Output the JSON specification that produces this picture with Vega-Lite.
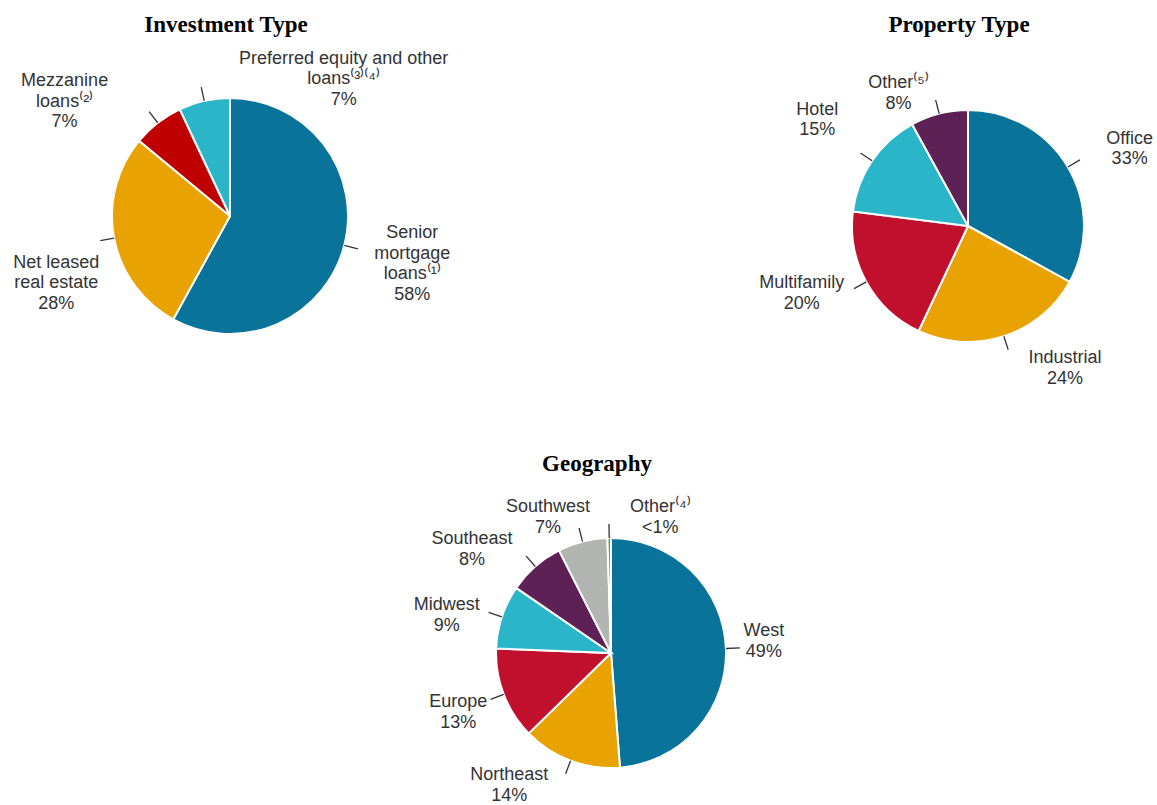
{
  "$schema": "https://vega.github.io/schema/vega-lite/v6.json",
  "background": "white",
  "padding": {"left": 0, "top": 14, "right": 0, "bottom": 0},
  "datasets": {
    "investment": [
      {"category": "Senior mortgage loans", "label": "Senior\nmortgage\nloans⁽¹⁾\n58%", "value": 58, "order": 1},
      {"category": "Net leased real estate", "label": "Net leased\nreal estate\n28%", "value": 28, "order": 2},
      {"category": "Mezzanine loans", "label": "Mezzanine\nloans⁽²⁾\n7%", "value": 7, "order": 3},
      {"category": "Preferred equity and other loans", "label": "Preferred equity and other\nloans⁽³⁾⁽⁴⁾\n7%", "value": 7, "order": 4}
    ],
    "property": [
      {"category": "Office", "label": "Office\n33%", "value": 33, "order": 1},
      {"category": "Industrial", "label": "Industrial\n24%", "value": 24, "order": 2},
      {"category": "Multifamily", "label": "Multifamily\n20%", "value": 20, "order": 3},
      {"category": "Hotel", "label": "Hotel\n15%", "value": 15, "order": 4},
      {"category": "Other", "label": "Other⁽⁵⁾\n8%", "value": 8, "order": 5}
    ],
    "geography": [
      {"category": "West", "label": "West\n49%", "value": 49, "order": 1},
      {"category": "Northeast", "label": "Northeast\n14%", "value": 14, "order": 2},
      {"category": "Europe", "label": "Europe\n13%", "value": 13, "order": 3},
      {"category": "Midwest", "label": "Midwest\n9%", "value": 9, "order": 4},
      {"category": "Southeast", "label": "Southeast\n8%", "value": 8, "order": 5},
      {"category": "Southwest", "label": "Southwest\n7%", "value": 7, "order": 6},
      {"category": "Other", "label": "Other⁽⁴⁾\n<1%", "value": 0.5, "order": 7}
    ]
  },
  "config": {
    "view": {"stroke": null},
    "title": {"font": "Liberation Serif", "fontSize": 23, "fontWeight": "bold", "color": "#000000", "anchor": "middle", "baseline": "alphabetic", "offset": 10}
  },
  "spacing": 48,
  "resolve": {"scale": {"color": "independent", "theta": "independent"}},
  "vconcat": [
    {
      "bounds": "flush",
      "spacing": 319,
      "resolve": {"scale": {"color": "independent", "theta": "independent"}},
      "hconcat": [
        {
          "width": 460,
          "height": 338,
          "title": {"text": "Investment Type", "dx": -4},
          "data": {"name": "investment"},
          "transform": [
            {"stack": "value", "groupby": [], "sort": [{"field": "order", "order": "ascending"}], "offset": "normalize", "as": ["t0", "t1"]},
            {"calculate": "(datum.t0 + datum.t1) / 2", "as": "mid"}
          ],
          "layer": [
            {
              "mark": {"type": "arc", "outerRadius": 118, "stroke": "white", "strokeWidth": 2},
              "encoding": {
                "theta": {"field": "t0", "type": "quantitative", "scale": {"domain": [0, 1]}, "stack": null},
                "theta2": {"field": "t1"},
                "color": {"field": "category", "type": "nominal", "legend": null,
                  "scale": {"domain": ["Senior mortgage loans", "Net leased real estate", "Mezzanine loans", "Preferred equity and other loans"],
                            "range": ["#0A7399", "#E8A202", "#C00000", "#2BB5C9"]}}
              }
            },
            {
              "mark": {"type": "arc", "innerRadius": 118, "outerRadius": 132, "stroke": "#333333", "strokeWidth": 1.3, "fillOpacity": 0},
              "encoding": {
                "theta": {"field": "mid", "type": "quantitative", "scale": {"domain": [0, 1]}, "stack": null},
                "theta2": {"field": "mid"}
              }
            },
            {
              "mark": {"type": "text", "radius": 185, "lineBreak": "\n", "font": "Liberation Sans", "fontSize": 18, "lineHeight": 20.5, "fill": "#333333", "align": "center", "baseline": "middle",
                "dx": {"expr": "datum.category == 'Senior mortgage loans' ? 3 : datum.category == 'Net leased real estate' ? 8 : datum.category == 'Mezzanine loans' ? -52 : 154"},
                "dy": {"expr": "datum.category == 'Senior mortgage loans' ? -29 : datum.category == 'Net leased real estate' ? 12 : datum.category == 'Mezzanine loans' ? 11.5 : 23.5"}},
              "encoding": {
                "theta": {"field": "mid", "type": "quantitative", "scale": {"domain": [0, 1]}, "stack": null},
                "text": {"field": "label", "type": "nominal"}
              }
            }
          ]
        },
        {
          "width": 378,
          "height": 358,
          "title": {"text": "Property Type", "dx": -9},
          "data": {"name": "property"},
          "transform": [
            {"stack": "value", "groupby": [], "sort": [{"field": "order", "order": "ascending"}], "offset": "normalize", "as": ["t0", "t1"]},
            {"calculate": "(datum.t0 + datum.t1) / 2", "as": "mid"}
          ],
          "layer": [
            {
              "mark": {"type": "arc", "outerRadius": 116, "stroke": "white", "strokeWidth": 2},
              "encoding": {
                "theta": {"field": "t0", "type": "quantitative", "scale": {"domain": [0, 1]}, "stack": null},
                "theta2": {"field": "t1"},
                "color": {"field": "category", "type": "nominal", "legend": null,
                  "scale": {"domain": ["Office", "Industrial", "Multifamily", "Hotel", "Other"],
                            "range": ["#0A7399", "#E8A202", "#C0102E", "#2BB5C9", "#5D2155"]}}
              }
            },
            {
              "mark": {"type": "arc", "innerRadius": 116, "outerRadius": 130, "stroke": "#333333", "strokeWidth": 1.3, "fillOpacity": 0},
              "encoding": {
                "theta": {"field": "mid", "type": "quantitative", "scale": {"domain": [0, 1]}, "stack": null},
                "theta2": {"field": "mid"}
              }
            },
            {
              "mark": {"type": "text", "radius": 175, "lineBreak": "\n", "font": "Liberation Sans", "fontSize": 18, "lineHeight": 20.5, "fill": "#333333", "align": "center", "baseline": "middle",
                "dx": {"expr": "datum.category == 'Office' ? 11 : datum.category == 'Industrial' ? 43 : datum.category == 'Multifamily' ? -13 : datum.category == 'Hotel' ? -6 : -26"},
                "dy": {"expr": "datum.category == 'Office' ? 2 : datum.category == 'Industrial' ? -34 : datum.category == 'Multifamily' ? -27 : datum.category == 'Hotel' ? -18 : 27"}},
              "encoding": {
                "theta": {"field": "mid", "type": "quantitative", "scale": {"domain": [0, 1]}, "stack": null},
                "text": {"field": "label", "type": "nominal"}
              }
            }
          ]
        }
      ]
    },
    {
      "bounds": "flush",
      "spacing": 460,
      "resolve": {"scale": {"color": "independent", "theta": "independent"}},
      "hconcat": [
        {
          "width": 1,
          "height": 1,
          "data": {"values": [{}]},
          "mark": {"type": "text", "text": ""}
        },
        {
          "width": 300,
          "height": 296,
          "title": {"text": "Geography", "dx": -14, "offset": 22},
          "data": {"name": "geography"},
          "transform": [
            {"stack": "value", "groupby": [], "sort": [{"field": "order", "order": "ascending"}], "offset": "normalize", "as": ["t0", "t1"]},
            {"calculate": "(datum.t0 + datum.t1) / 2", "as": "mid"}
          ],
          "layer": [
            {
              "mark": {"type": "arc", "outerRadius": 115, "stroke": "white", "strokeWidth": 2},
              "encoding": {
                "theta": {"field": "t0", "type": "quantitative", "scale": {"domain": [0, 1]}, "stack": null},
                "theta2": {"field": "t1"},
                "color": {"field": "category", "type": "nominal", "legend": null,
                  "scale": {"domain": ["West", "Northeast", "Europe", "Midwest", "Southeast", "Southwest", "Other"],
                            "range": ["#0A7399", "#E8A202", "#C0102E", "#2BB5C9", "#5D2155", "#B1B4B1", "#5BA847"]}}
              }
            },
            {
              "mark": {"type": "arc", "innerRadius": 115, "outerRadius": 129, "stroke": "#333333", "strokeWidth": 1.3, "fillOpacity": 0},
              "encoding": {
                "theta": {"field": "mid", "type": "quantitative", "scale": {"domain": [0, 1]}, "stack": null},
                "theta2": {"field": "mid"}
              }
            },
            {
              "mark": {"type": "text", "radius": 170, "lineBreak": "\n", "font": "Liberation Sans", "fontSize": 18, "lineHeight": 20.5, "fill": "#333333", "align": "center", "baseline": "middle",
                "dx": {"expr": "datum.category == 'West' ? -17 : datum.category == 'Northeast' ? -42 : datum.category == 'Europe' ? 6 : datum.category == 'Midwest' ? -3 : datum.category == 'Southeast' ? -27 : datum.category == 'Southwest' ? -21 : 52"},
                "dy": {"expr": "datum.category == 'West' ? -15 : datum.category == 'Northeast' ? -37 : datum.category == 'Europe' ? -12 : datum.category == 'Midwest' ? 6 : datum.category == 'Southeast' ? 14 : datum.category == 'Southwest' ? 19 : 24"}},
              "encoding": {
                "theta": {"field": "mid", "type": "quantitative", "scale": {"domain": [0, 1]}, "stack": null},
                "text": {"field": "label", "type": "nominal"}
              }
            }
          ]
        }
      ]
    }
  ]
}
